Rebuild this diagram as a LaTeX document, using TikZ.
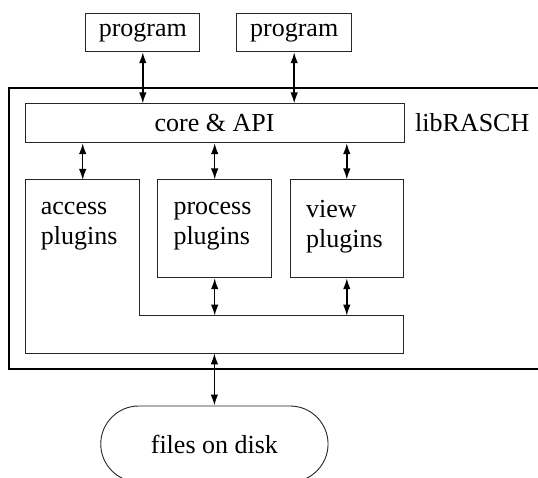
\documentclass[tikz,border=0pt]{standalone}
\usepackage{fontspec}
\setmainfont{Liberation Serif}
\usetikzlibrary{arrows.meta}
\begin{document}
\begin{tikzpicture}[x=1pt,y=-1pt,
  txt/.style={font=\fontsize{26}{30}\selectfont, inner sep=0pt},
  thinbox/.style={draw=black!85, line width=1pt, inner sep=0pt,
    font=\fontsize{26}{30}\selectfont},
  biarrow/.style={line width=1.5pt, {Latex[length=11pt,width=7.5pt]}-{Latex[length=11pt,width=7.5pt]}},
  outerframe/.style={draw=black, line width=2pt}]
\useasboundingbox (0,0) rectangle (538,478);
\clip (0,0) rectangle (538,478);

% library frame
\draw[outerframe] (9,88.3) rectangle (560,369.3);
\node[txt, anchor=base west] (lib) at (415,131.7) {libRASCH};

% programs on top
\node[thinbox, minimum width=114.3pt, minimum height=38.4pt] (prog1) at (142.8,32.5) {program};
\node[thinbox, minimum width=115pt, minimum height=38.4pt] (prog2) at (294.2,32.5) {program};

% core layer
\node[thinbox, minimum width=379pt, minimum height=38.7pt] (core) at (214.5,123.3) {core \& API};

% plugin boxes
\node[thinbox, minimum width=114pt, minimum height=97.7pt] (process) at (214.7,228.85) {};
\node[thinbox, minimum width=113.6pt, minimum height=97.7pt] (view) at (346.8,228.85) {};

% access plugins: L-shaped block that also carries the shared bar
\coordinate (accNW) at (25.7,180);
\coordinate (accNE) at (139,180);
\coordinate (accIn) at (139,315.7);
\coordinate (barNE) at (403.6,315.7);
\coordinate (barSE) at (403.6,353.3);
\coordinate (accSW) at (25.7,353.3);
\draw[draw=black!85, line width=1pt]
  (accNW) -- (accNE) -- (accIn) -- (barNE) -- (barSE) -- (accSW) -- cycle;
\coordinate (accTop) at (82.7,180);

% labels
\node[txt, anchor=base west] (acc1) at (40.7,214.5) {access};
\node[txt, anchor=base west] (acc2) at (40.7,244.5) {plugins};
\node[txt, anchor=base west] (pro1) at (173.3,214.5) {process};
\node[txt, anchor=base west] (pro2) at (173.3,244.5) {plugins};
\node[txt, anchor=base west] (vie1) at (306,217.5) {view};
\node[txt, anchor=base west] (vie2) at (306,247.5) {plugins};

% storage
\node[thinbox, line width=0.9pt, minimum width=227.3pt, minimum height=76pt,
  rounded corners=38pt] (disk) at (214.4,444) {files on disk};

% connectors
\draw[biarrow] (prog1.south) -- (prog1.south |- core.north);
\draw[biarrow] (prog2.south) -- (prog2.south |- core.north);
\draw[biarrow] (core.south -| accTop) -- (accTop);
\draw[biarrow] (core.south -| process.north) -- (process.north);
\draw[biarrow] (core.south -| view.north) -- (view.north);
\draw[biarrow] (process.south) -- (process.south |- barNE);
\draw[biarrow] (view.south) -- (view.south |- barNE);
\draw[biarrow] (disk.north |- barSE) -- (disk.north);
\end{tikzpicture}
\end{document}
